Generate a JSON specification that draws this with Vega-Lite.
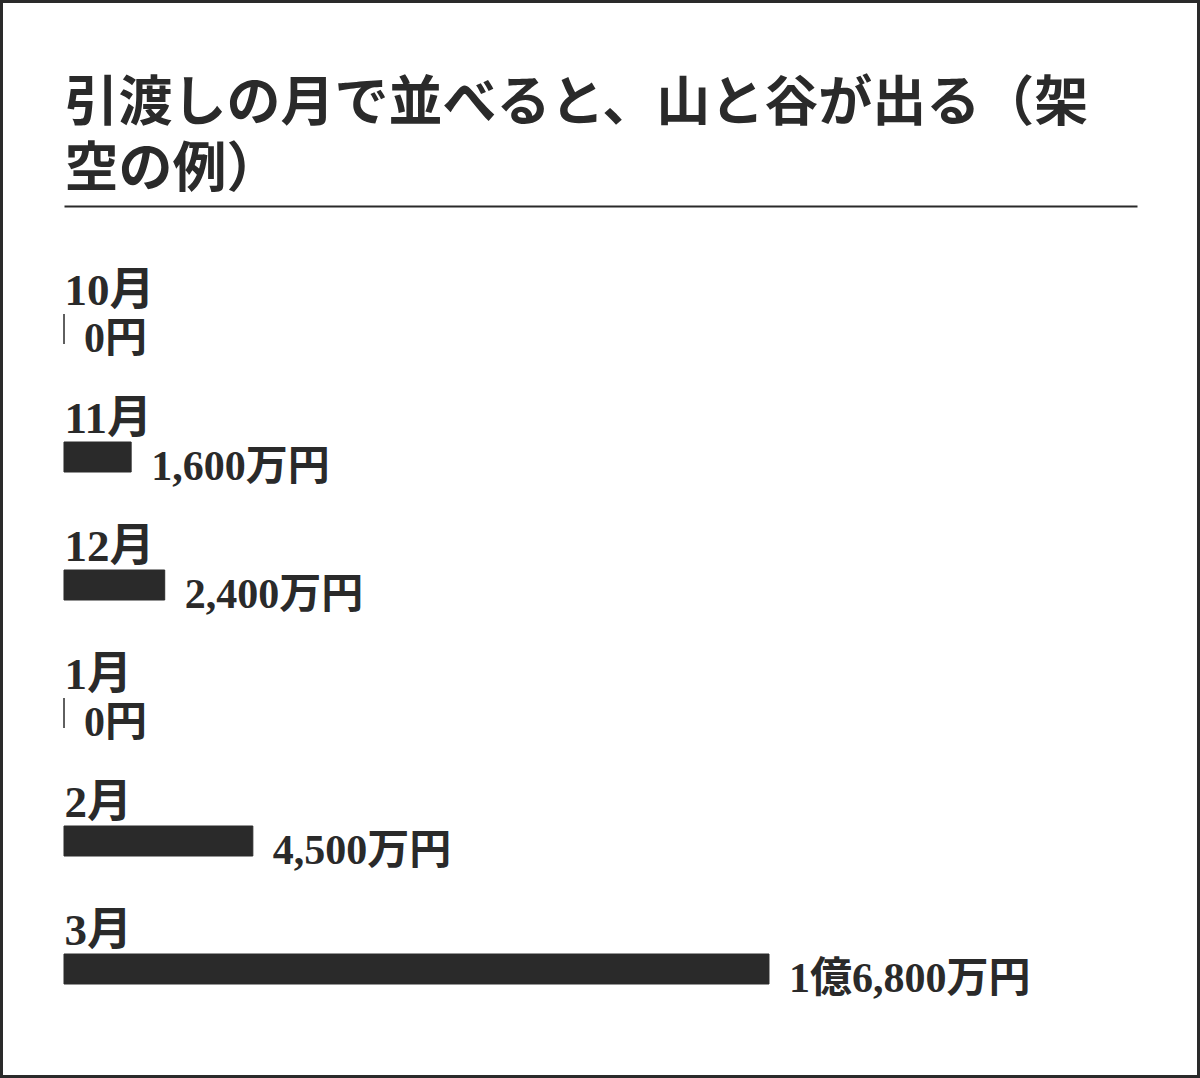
{
  "$schema": "https://vega.github.io/schema/vega-lite/v6.json",
  "width": 1200,
  "height": 1078,
  "autosize": {"type": "none"},
  "padding": 0,
  "background": "#ffffff",
  "config": {
    "view": {"stroke": "#2a2a2a", "strokeWidth": 6},
    "font": "Liberation Serif, Noto Sans CJK JP"
  },
  "data": {
    "values": [
      {"month": "10月", "value": 0, "label": "0円"},
      {"month": "11月", "value": 1600, "label": "1,600万円"},
      {"month": "12月", "value": 2400, "label": "2,400万円"},
      {"month": "1月", "value": 0, "label": "0円"},
      {"month": "2月", "value": 4500, "label": "4,500万円"},
      {"month": "3月", "value": 16800, "label": "1億6,800万円"}
    ]
  },
  "encoding": {
    "y": {
      "field": "month",
      "type": "ordinal",
      "sort": null,
      "scale": {"range": [265, 1033], "paddingInner": 0, "paddingOuter": 0},
      "axis": {
        "orient": "left",
        "title": null,
        "domain": false,
        "ticks": false,
        "grid": false,
        "labelAlign": "left",
        "labelBaseline": "middle",
        "labelPadding": -64,
        "labelOffset": -38,
        "labelFont": "Liberation Serif, Noto Sans CJK JP",
        "labelFontWeight": "bold",
        "labelFontSize": 45,
        "labelColor": "#2a2a2a",
        "labelLimit": 0
      }
    },
    "x": {
      "field": "value",
      "type": "quantitative",
      "scale": {"domain": [0, 25570], "range": [64, 1137], "nice": false, "zero": true},
      "axis": {
        "orient": "top",
        "offset": -206,
        "labels": false,
        "ticks": false,
        "grid": false,
        "domainColor": "#2a2a2a",
        "domainWidth": 2,
        "title": ["引渡しの月で並べると、山と谷が出る（架", "空の例）"],
        "titleX": 64,
        "titleY": -86,
        "titleAlign": "left",
        "titleAnchor": "start",
        "titleAngle": 0,
        "titleBaseline": "alphabetic",
        "titleFont": "Liberation Serif, Noto Sans CJK JP",
        "titleFontWeight": "bold",
        "titleFontSize": 54,
        "titleLineHeight": 66,
        "titleColor": "#2a2a2a",
        "titleLimit": 0
      }
    }
  },
  "layer": [
    {
      "mark": {"type": "bar", "height": 30, "color": "#2a2a2a", "stroke": "#2a2a2a", "strokeWidth": 1}
    },
    {
      "mark": {
        "type": "text",
        "align": "left",
        "baseline": "middle",
        "dx": 20,
        "dy": 10,
        "font": "Liberation Serif, Noto Sans CJK JP",
        "fontWeight": "bold",
        "fontSize": 42,
        "color": "#2a2a2a"
      },
      "encoding": {"text": {"field": "label"}}
    }
  ]
}
